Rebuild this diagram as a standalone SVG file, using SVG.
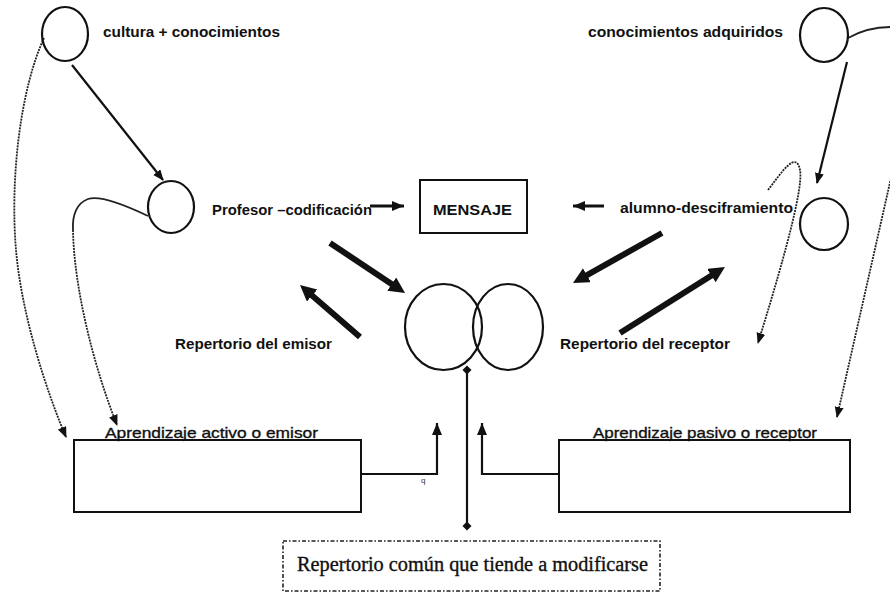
<svg xmlns="http://www.w3.org/2000/svg" width="890" height="593" viewBox="0 0 890 593">
<defs>
<style>
.lbl{font-family:"Liberation Sans",Arial,sans-serif;font-size:15.5px;font-weight:bold;fill:#111;}
.lbl2{font-family:"Liberation Sans",Arial,sans-serif;font-size:15px;fill:#111;stroke:#111;stroke-width:0.35;}
.ser{font-family:"Liberation Serif","Times New Roman",serif;font-size:20px;fill:#111;stroke:#111;stroke-width:0.35;}
.node{fill:none;stroke:#111;stroke-width:2.2;}
.box{fill:none;stroke:#111;stroke-width:2;}
.thick{fill:none;stroke:#111;stroke-width:6;}
.thin{fill:none;stroke:#111;stroke-width:2.2;}
.dot{fill:none;stroke:#222;stroke-width:1.8;stroke-dasharray:2 1;}
.sol{fill:none;stroke:#222;stroke-width:1.8;}
</style>
<marker id="hThick" markerUnits="userSpaceOnUse" markerWidth="18" markerHeight="18" refX="2" refY="8" orient="auto">
<path d="M0,0 L16,8 L0,16 z" fill="#111"/>
</marker>
<marker id="hThin" markerUnits="userSpaceOnUse" markerWidth="12" markerHeight="10" refX="10" refY="4.5" orient="auto">
<path d="M0,0 L11,4.5 L0,9 z" fill="#111"/>
</marker>
<marker id="hMed" markerUnits="userSpaceOnUse" markerWidth="14" markerHeight="12" refX="12" refY="5" orient="auto">
<path d="M0,0 L12,5 L0,10 z" fill="#111"/>
</marker>
<marker id="hDot" markerUnits="userSpaceOnUse" markerWidth="12" markerHeight="10" refX="10" refY="4.5" orient="auto">
<path d="M0,0 L11,4.5 L0,9 z" fill="#111"/>
</marker>
<marker id="dia" markerUnits="userSpaceOnUse" markerWidth="10" markerHeight="10" refX="5" refY="5" orient="auto">
<path d="M0.5,5 L5,0.5 L9.5,5 L5,9.5 z" fill="#111"/>
</marker>
</defs>
<rect width="890" height="593" fill="#fff"/>

<g id="connectors">
<path class="thin" d="M72,65 L163,180" marker-end="url(#hThin)"/>
<path class="thin" d="M847,62 L817,183" marker-end="url(#hThin)"/>
<path d="M370,206 L404,206" fill="none" stroke="#111" stroke-width="3" marker-end="url(#hMed)"/>
<path d="M604,206 L573,206" fill="none" stroke="#111" stroke-width="3" marker-end="url(#hMed)"/>
<path class="thick" d="M330,243 L393.4,285.2" marker-end="url(#hThick)"/>
<path class="thick" d="M360,337 L310.6,294.2" marker-end="url(#hThick)"/>
<path class="thick" d="M662,233 L585.2,276.1" marker-end="url(#hThick)"/>
<path class="thick" d="M620,333 L713.1,274.5" marker-end="url(#hThick)"/>
<path class="dot" d="M44,38 C20,90 10,180 16,250 C22,320 50,400 66,437" marker-end="url(#hDot)"/>
<path class="sol" d="M148,216 C125,205 100,195 88,199 C77,203 72,215 73,230"/>
<path class="dot" d="M73,230 C74,290 95,370 117,425" marker-end="url(#hDot)"/>
<path class="sol" d="M848,38 C862,30 876,27 891,27"/>
<path class="dot" d="M891,178 L837,417" marker-end="url(#hDot)"/>
<path class="dot" d="M768,190 C782,172 796,150 800,170 C803,185 790,240 758,343" marker-end="url(#hDot)"/>
<path class="thin" d="M361,474 L437,474 L437,423" marker-end="url(#hMed)"/>
<path class="thin" d="M559,474 L482,474 L482,423" marker-end="url(#hMed)"/>
<path class="thin" d="M467,370 L467,526" marker-start="url(#dia)" marker-end="url(#dia)"/>
</g>

<g id="n-cultura">
<ellipse class="node" cx="65" cy="34" rx="23" ry="27"/>
<text class="lbl" x="103" y="37" textLength="177" lengthAdjust="spacingAndGlyphs">cultura + conocimientos</text>
</g>
<g id="n-profesor">
<ellipse class="node" cx="171" cy="207" rx="23" ry="26"/>
<text class="lbl" x="212" y="215" textLength="160" lengthAdjust="spacingAndGlyphs">Profesor –codificación</text>
</g>
<g id="n-mensaje">
<rect class="box" x="420" y="180" width="107" height="53"/>
<text class="lbl" x="433" y="215" textLength="79" lengthAdjust="spacingAndGlyphs">MENSAJE</text>
</g>
<g id="n-alumno">
<ellipse class="node" cx="824" cy="224" rx="24" ry="26"/>
<text class="lbl" x="620" y="213" textLength="173" lengthAdjust="spacingAndGlyphs">alumno-desciframiento</text>
</g>
<g id="n-conocimientos">
<ellipse class="node" cx="824" cy="35" rx="24" ry="27"/>
<text class="lbl" x="588" y="37" textLength="195" lengthAdjust="spacingAndGlyphs">conocimientos adquiridos</text>
</g>
<g id="n-repertorios">
<ellipse class="node" cx="443.5" cy="327" rx="38.5" ry="43"/>
<ellipse class="node" cx="508" cy="327" rx="35" ry="43"/>
<text class="lbl" x="175" y="349" textLength="157" lengthAdjust="spacingAndGlyphs">Repertorio del emisor</text>
<text class="lbl" x="560" y="349" textLength="170" lengthAdjust="spacingAndGlyphs">Repertorio del receptor</text>
</g>
<g id="n-activo">
<rect class="box" x="74" y="440" width="287" height="72"/>
<text class="lbl2" x="105" y="438" textLength="213" lengthAdjust="spacingAndGlyphs">Aprendizaje activo o emisor</text>
<text x="421" y="483" font-family="Liberation Sans, sans-serif" font-size="8" fill="#333">q</text>
</g>
<g id="n-pasivo">
<rect class="box" x="559" y="440" width="291" height="72"/>
<text class="lbl2" x="593" y="438" textLength="224" lengthAdjust="spacingAndGlyphs">Aprendizaje pasivo o receptor</text>
</g>
<g id="n-comun">
<rect x="283" y="541" width="377" height="50" fill="none" stroke="#222" stroke-width="1.6" stroke-dasharray="4 2 1.5 2"/>
<text class="ser" x="297" y="571" textLength="351" lengthAdjust="spacingAndGlyphs">Repertorio común que tiende a modificarse</text>
</g>
</svg>
